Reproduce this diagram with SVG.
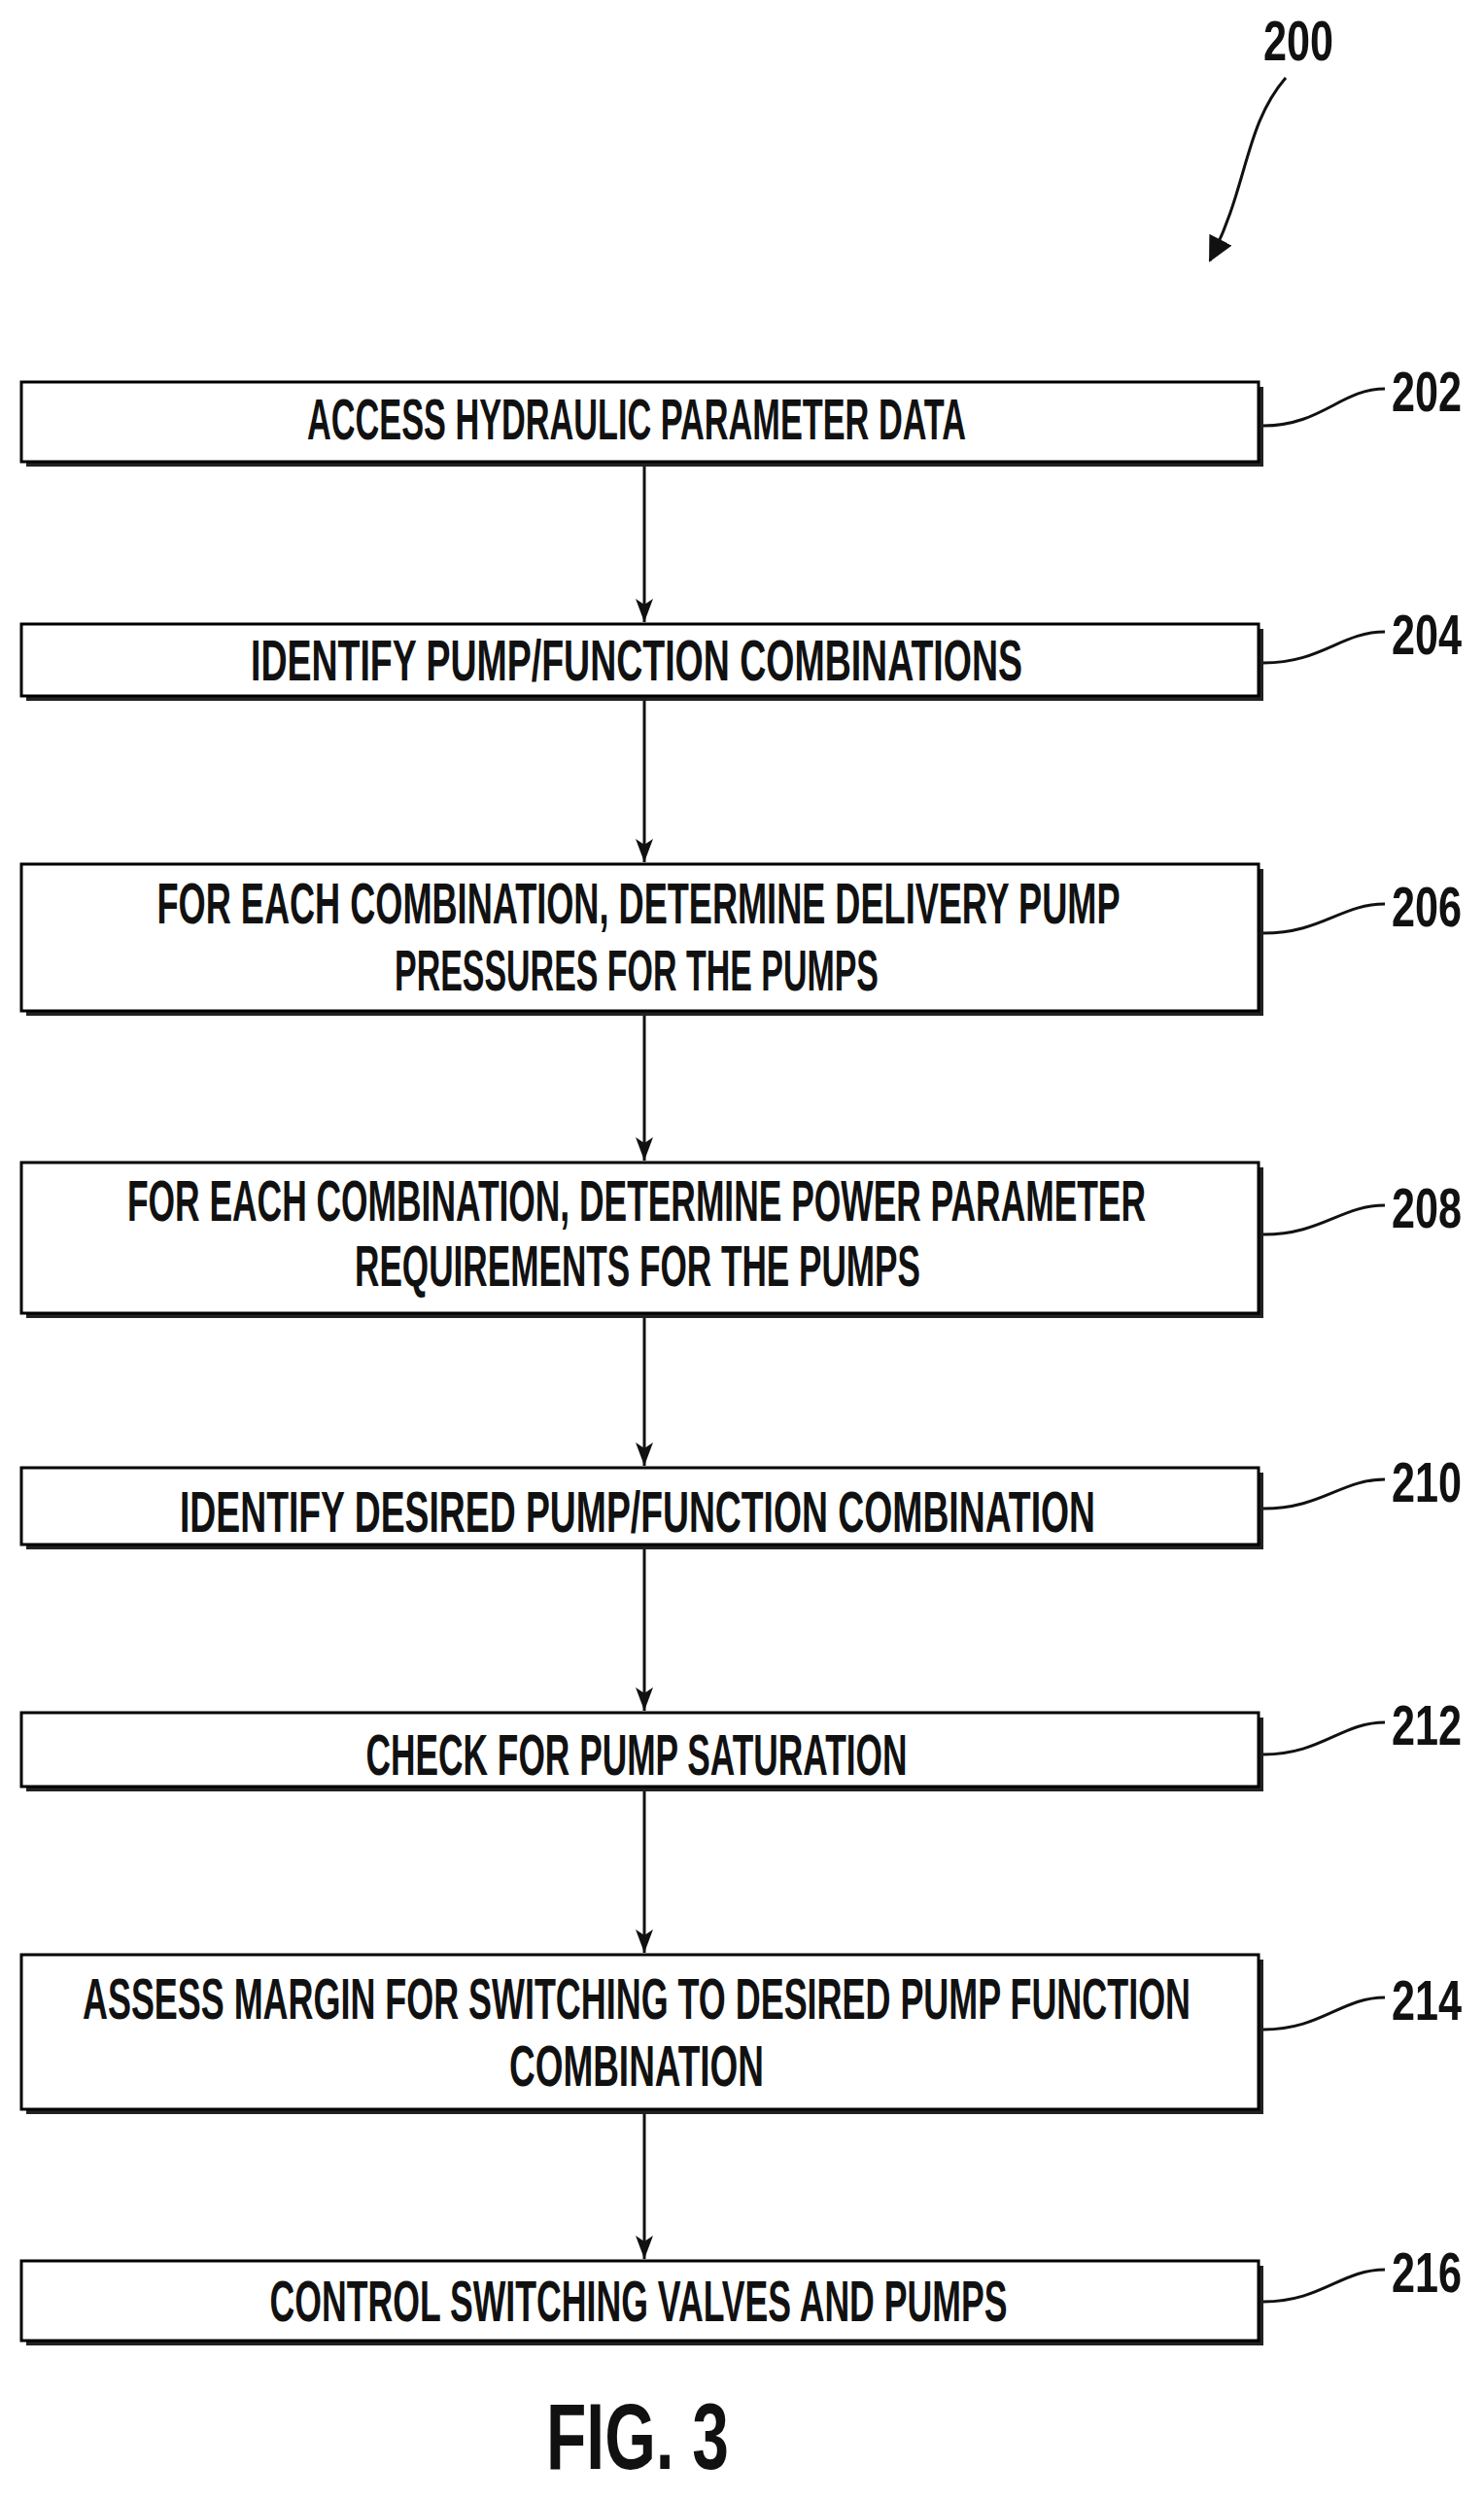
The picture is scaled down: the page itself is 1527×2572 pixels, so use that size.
<svg xmlns="http://www.w3.org/2000/svg" width="1527" height="2572" viewBox="0 0 1527 2572">
<style>
.box{fill:#fff;stroke:#000;stroke-width:3}
.sh{fill:#222}
.t{font-family:"Liberation Sans",Arial,sans-serif;font-weight:bold;font-size:60px;fill:#111}
.ref{font-family:"Liberation Sans",Arial,sans-serif;font-weight:bold;font-size:58px;fill:#111}
.ln{fill:none;stroke:#111;stroke-width:3}
</style>
<defs><marker id="a" markerWidth="24" markerHeight="18" refX="24" refY="9" orient="auto" markerUnits="userSpaceOnUse" viewBox="0 0 24 18"><path d="M0,0 L24,9 L0,18 L6,9 Z" fill="#111"/></marker>
<marker id="b" markerWidth="26" markerHeight="26" refX="24" refY="13" orient="auto" markerUnits="userSpaceOnUse" viewBox="0 0 26 26"><path d="M0,0 L26,13 L0,26 Z" fill="#111"/></marker></defs>
<g id="n200"><text class="ref" x="1300" y="62" textLength="72" lengthAdjust="spacingAndGlyphs">200</text><path class="ln" d="M1323,80 C1280,130 1285,190 1245,268" marker-end="url(#b)"/></g>
<g id="connectors">
<line class="ln" x1="663" y1="480" x2="663" y2="640" marker-end="url(#a)"/>
<line class="ln" x1="663" y1="721" x2="663" y2="887" marker-end="url(#a)"/>
<line class="ln" x1="663" y1="1045" x2="663" y2="1194" marker-end="url(#a)"/>
<line class="ln" x1="663" y1="1356" x2="663" y2="1508" marker-end="url(#a)"/>
<line class="ln" x1="663" y1="1594" x2="663" y2="1760" marker-end="url(#a)"/>
<line class="ln" x1="663" y1="1843" x2="663" y2="2009" marker-end="url(#a)"/>
<line class="ln" x1="663" y1="2175" x2="663" y2="2324" marker-end="url(#a)"/>
</g>
<g id="n202"><rect class="sh" x="27" y="398" width="1273" height="82"/><rect class="box" x="22" y="393" width="1273" height="82"/><text class="t" x="655" y="452" text-anchor="middle" textLength="678" lengthAdjust="spacingAndGlyphs">ACCESS HYDRAULIC PARAMETER DATA</text><path class="ln" d="M1300,438 C1360,438 1380,400 1425,400"/><text class="ref" x="1432" y="423" textLength="72" lengthAdjust="spacingAndGlyphs">202</text></g>
<g id="n204"><rect class="sh" x="27" y="647" width="1273" height="74"/><rect class="box" x="22" y="642" width="1273" height="74"/><text class="t" x="655" y="700" text-anchor="middle" textLength="794" lengthAdjust="spacingAndGlyphs">IDENTIFY PUMP/FUNCTION COMBINATIONS</text><path class="ln" d="M1300,682 C1360,682 1380,650 1425,650"/><text class="ref" x="1432" y="673" textLength="72" lengthAdjust="spacingAndGlyphs">204</text></g>
<g id="n206"><rect class="sh" x="27" y="894" width="1273" height="151"/><rect class="box" x="22" y="889" width="1273" height="151"/><text class="t" x="657" y="950" text-anchor="middle" textLength="991" lengthAdjust="spacingAndGlyphs">FOR EACH COMBINATION, DETERMINE DELIVERY PUMP</text><text class="t" x="655" y="1019" text-anchor="middle" textLength="498" lengthAdjust="spacingAndGlyphs">PRESSURES FOR THE PUMPS</text><path class="ln" d="M1300,960 C1360,960 1380,930 1425,930"/><text class="ref" x="1432" y="953" textLength="72" lengthAdjust="spacingAndGlyphs">206</text></g>
<g id="n208"><rect class="sh" x="27" y="1201" width="1273" height="155"/><rect class="box" x="22" y="1196" width="1273" height="155"/><text class="t" x="655" y="1256" text-anchor="middle" textLength="1048" lengthAdjust="spacingAndGlyphs">FOR EACH COMBINATION, DETERMINE POWER PARAMETER</text><text class="t" x="656" y="1323" text-anchor="middle" textLength="582" lengthAdjust="spacingAndGlyphs">REQUIREMENTS FOR THE PUMPS</text><path class="ln" d="M1300,1270 C1360,1270 1380,1240 1425,1240"/><text class="ref" x="1432" y="1263" textLength="72" lengthAdjust="spacingAndGlyphs">208</text></g>
<g id="n210"><rect class="sh" x="27" y="1515" width="1273" height="79"/><rect class="box" x="22" y="1510" width="1273" height="79"/><text class="t" x="656" y="1576" text-anchor="middle" textLength="942" lengthAdjust="spacingAndGlyphs">IDENTIFY DESIRED PUMP/FUNCTION COMBINATION</text><path class="ln" d="M1300,1552 C1360,1552 1380,1522 1425,1522"/><text class="ref" x="1432" y="1545" textLength="72" lengthAdjust="spacingAndGlyphs">210</text></g>
<g id="n212"><rect class="sh" x="27" y="1767" width="1273" height="76"/><rect class="box" x="22" y="1762" width="1273" height="76"/><text class="t" x="655" y="1826" text-anchor="middle" textLength="557" lengthAdjust="spacingAndGlyphs">CHECK FOR PUMP SATURATION</text><path class="ln" d="M1300,1805 C1360,1805 1380,1772 1425,1772"/><text class="ref" x="1432" y="1795" textLength="72" lengthAdjust="spacingAndGlyphs">212</text></g>
<g id="n214"><rect class="sh" x="27" y="2016" width="1273" height="159"/><rect class="box" x="22" y="2011" width="1273" height="159"/><text class="t" x="655" y="2077" text-anchor="middle" textLength="1140" lengthAdjust="spacingAndGlyphs">ASSESS MARGIN FOR SWITCHING TO DESIRED PUMP FUNCTION</text><text class="t" x="655" y="2146" text-anchor="middle" textLength="262" lengthAdjust="spacingAndGlyphs">COMBINATION</text><path class="ln" d="M1300,2088 C1360,2088 1380,2055 1425,2055"/><text class="ref" x="1432" y="2078" textLength="72" lengthAdjust="spacingAndGlyphs">214</text></g>
<g id="n216"><rect class="sh" x="27" y="2331" width="1273" height="82"/><rect class="box" x="22" y="2326" width="1273" height="82"/><text class="t" x="657" y="2388" text-anchor="middle" textLength="759" lengthAdjust="spacingAndGlyphs">CONTROL SWITCHING VALVES AND PUMPS</text><path class="ln" d="M1300,2368 C1360,2368 1380,2335 1425,2335"/><text class="ref" x="1432" y="2358" textLength="72" lengthAdjust="spacingAndGlyphs">216</text></g>
<text x="562" y="2540" font-family="Liberation Sans,Arial,sans-serif" font-weight="bold" font-size="96" fill="#111" textLength="188" lengthAdjust="spacingAndGlyphs">FIG. 3</text>
</svg>
